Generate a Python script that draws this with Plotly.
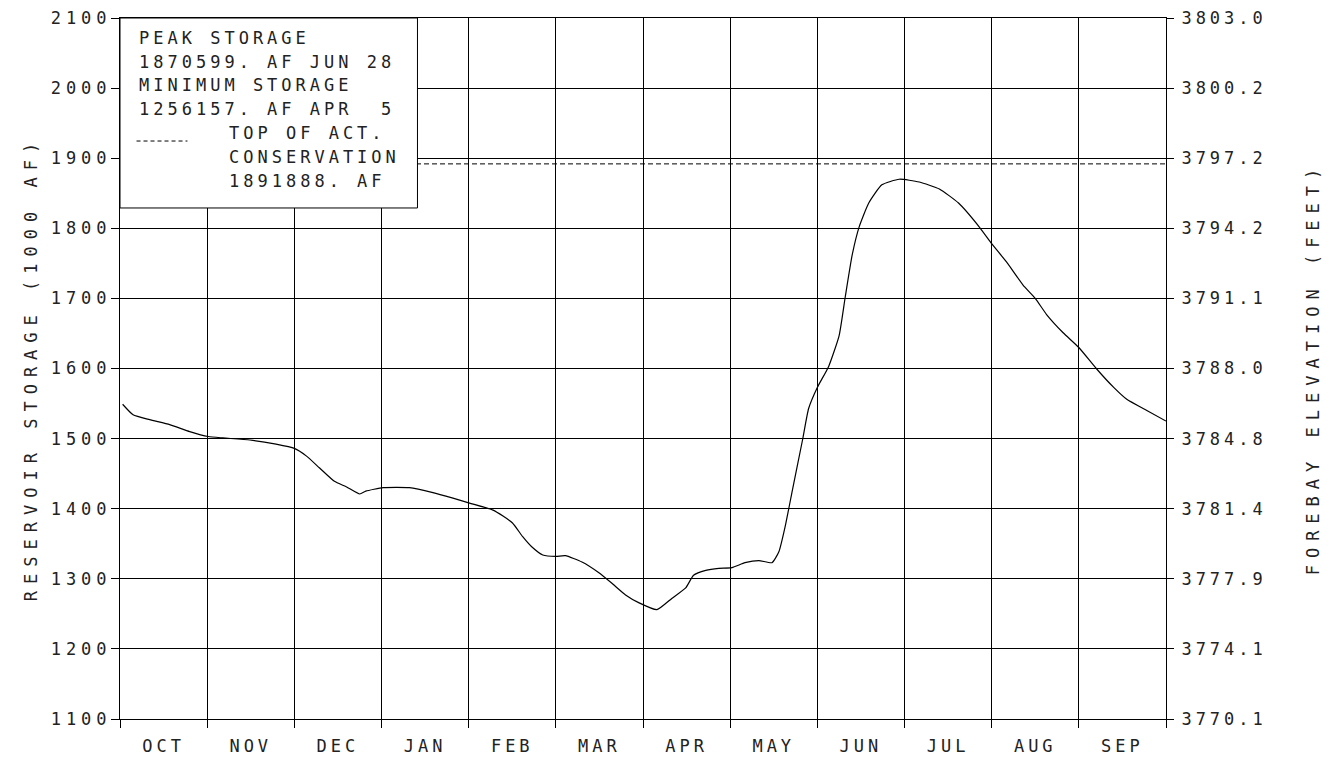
import plotly.graph_objects as go

# ---- data ----
months = ["OCT", "NOV", "DEC", "JAN", "FEB", "MAR", "APR", "MAY", "JUN", "JUL", "AUG", "SEP"]
# position in months from Oct 1 (0 .. 12)
t_month = [0.03, 0.15, 0.34, 0.57, 0.80, 1.01, 1.18, 1.49, 1.79, 2.00, 2.14, 2.29, 2.46, 2.60,
           2.75, 2.82, 3.02, 3.32, 3.59, 3.82, 4.01, 4.28, 4.50, 4.62, 4.72, 4.85, 5.00, 5.11,
           5.30, 5.49, 5.64, 5.80, 5.95, 6.16, 6.33, 6.49, 6.58, 6.72, 6.87, 7.02, 7.17, 7.33,
           7.48, 7.56, 7.63, 7.71, 7.83, 7.90, 8.00, 8.13, 8.25, 8.32, 8.40, 8.48, 8.59, 8.74,
           8.94, 9.17, 9.40, 9.62, 9.87, 10.00, 10.17, 10.36, 10.50, 10.63, 10.82, 11.00, 11.20,
           11.40, 11.55, 11.78, 12.00]
storage = [1549, 1534, 1527, 1520, 1510, 1503, 1501, 1498, 1492, 1486, 1475, 1458, 1439, 1431,
           1421, 1425, 1430, 1430, 1423, 1415, 1408, 1398, 1380, 1360, 1346, 1334, 1332, 1333,
           1324, 1309, 1294, 1277, 1266, 1256, 1272, 1287, 1305, 1312, 1315, 1316, 1323, 1326,
           1323, 1339, 1374, 1424, 1498, 1543, 1573, 1603, 1647, 1702, 1762, 1802, 1836, 1862,
           1870, 1866, 1856, 1836, 1800, 1778, 1752, 1719, 1700, 1677, 1651, 1630, 1600,
           1573, 1556, 1540, 1525]
top_conservation = 1891.888
storage_ticks = [1100, 1200, 1300, 1400, 1500, 1600, 1700, 1800, 1900, 2000, 2100]
elev_ticks = ["3770.1", "3774.1", "3777.9", "3781.4", "3784.8", "3788.0", "3791.1",
              "3794.2", "3797.2", "3800.2", "3803.0"]
legend_lines = ["PEAK STORAGE", "1870599. AF JUN 28", "MINIMUM STORAGE",
                "1256157. AF APR \u00a05", "TOP OF ACT.", "CONSERVATION", "1891888. AF"]

FONT = "DejaVu Sans Mono"
INK = "#222222"


def sp(s, ls=4):
    return '<span style="letter-spacing:%dpx">%s</span>' % (ls, s)


fig = go.Figure()

fig.add_trace(go.Scatter(
    x=[0, 12], y=[top_conservation, top_conservation], mode="lines",
    line=dict(color="black", width=1, dash="5px,3px"), hoverinfo="skip", showlegend=False))

fig.add_trace(go.Scatter(
    x=t_month, y=storage, mode="lines",
    line=dict(color="black", width=1.2, shape="spline", smoothing=0.5),
    showlegend=False))

# dummy trace on the right axis
fig.add_trace(go.Scatter(x=[0], y=[1100], yaxis="y2", mode="markers",
                         marker=dict(opacity=0), hoverinfo="skip", showlegend=False))

title_font = dict(family=FONT, size=17, color=INK)

fig.update_layout(
    width=1333, height=761,
    margin=dict(l=112, r=175, t=10, b=50, autoexpand=False),
    paper_bgcolor="white", plot_bgcolor="white",
    font=dict(family=FONT, size=17, color=INK),
    xaxis=dict(
        range=[0, 12], tickmode="array", automargin=False,
        tickvals=[i + 0.5 for i in range(12)],
        ticktext=[sp(m) for m in months],
        ticks="", showgrid=False, zeroline=False,
        showline=True, linecolor="black", linewidth=1, mirror=True,
        ticklabelstandoff=12, ticklabeloverflow="allow",
        minor=dict(tickmode="linear", tick0=0, dtick=1, ticks="outside", ticklen=8,
                   tickcolor="black", tickwidth=1, showgrid=True,
                   gridcolor="black", gridwidth=1),
    ),
    yaxis=dict(
        range=[1100, 2100], tickmode="array", tickvals=storage_ticks, automargin=False,
        ticktext=[sp(str(v), 5) for v in storage_ticks],
        ticks="outside", ticklen=8, tickcolor="black",
        showgrid=True, gridcolor="black", gridwidth=1, zeroline=False,
        showline=True, linecolor="black", linewidth=1, mirror=True,
        ticklabelstandoff=-4, ticklabeloverflow="allow",
        title=dict(text=sp("RESERVOIR STORAGE (1000 AF)", 7), standoff=8, font=title_font),
    ),
    yaxis2=dict(
        range=[1100, 2100], overlaying="y", side="right", anchor="x", automargin=False,
        tickmode="array", tickvals=storage_ticks,
        ticktext=[sp(v, 4) for v in elev_ticks],
        ticks="outside", ticklen=7, tickcolor="black",
        showgrid=False, zeroline=False, ticklabelstandoff=4, ticklabeloverflow="allow",
        title=dict(text=sp("FOREBAY ELEVATION (FEET)", 7), standoff=41, font=title_font),
    ),
)

# legend box
fig.add_shape(type="rect", xref="paper", yref="paper", x0=0, x1=0.2844, y0=0.729, y1=1,
              line=dict(color="black", width=1), fillcolor="white", layer="above")
# dashed sample
fig.add_shape(type="line", xref="paper", yref="paper", x0=0.0158, x1=0.0645,
              y0=0.8245, y1=0.8245, line=dict(color="black", width=1, dash="4px,3px"),
              layer="above")

ys = [0.9715, 0.9372, 0.9044, 0.8702, 0.8359, 0.8017, 0.7675]
xs = [0.0167, 0.0167, 0.0167, 0.0167, 0.1020, 0.1020, 0.1020]
for txt, xx, yy in zip(legend_lines, xs, ys):
    fig.add_annotation(text=sp(txt, 4), xref="paper", yref="paper", x=xx, y=yy,
                       xanchor="left", yanchor="middle", showarrow=False,
                       font=dict(family=FONT, size=17, color=INK))

fig.write_html("out.html")
